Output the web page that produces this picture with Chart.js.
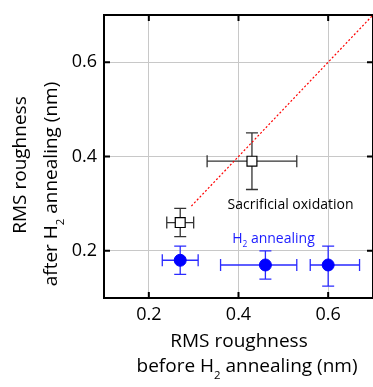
<!DOCTYPE html>
<html>
<head>
<meta charset="utf-8">
<script src="https://cdn.jsdelivr.net/npm/chart.js@4"></script>
<style>
  html, body { margin: 0; padding: 0; background: #fff; }
  canvas { display: block; }
</style>
</head>
<body>
<canvas id="roughChart" width="373" height="387"></canvas>
<script>
const xTicks = [0.2, 0.4, 0.6];
const yTicks = [0.2, 0.4, 0.6];

// sacrificial oxidation (open squares)
const oxBefore = [0.43, 0.27];
const oxAfter = [0.39, 0.26];
const oxBeforeErrLo = [0.10, 0.03];
const oxBeforeErrHi = [0.10, 0.03];
const oxAfterErrLo = [0.06, 0.03];
const oxAfterErrHi = [0.06, 0.03];

// H2 annealing (filled circles)
const h2Before = [0.27, 0.46, 0.60];
const h2After = [0.18, 0.17, 0.17];
const h2BeforeErrLo = [0.04, 0.10, 0.04];
const h2BeforeErrHi = [0.04, 0.07, 0.07];
const h2AfterErrLo = [0.03, 0.03, 0.045];
const h2AfterErrHi = [0.03, 0.03, 0.04];

// y = x guide line
const guideX = [0.295, 0.7];
const guideY = [0.295, 0.7];

// axis titles, [text, isSubscript]
const xTitle = [[['RMS roughness', false]], [['before H', false], ['2', true], [' annealing (nm)', false]]];
const yTitle = [[['RMS roughness', false]], [['after H', false], ['2', true], [' annealing (nm)', false]]];

const FONT = '"Open Sans", sans-serif';

function drawRich(ctx, parts, cx, cy, size) {
  let total = 0;
  parts.forEach(([t, sub]) => {
    ctx.font = (sub ? size * 0.6 : size) + 'px ' + FONT;
    total += ctx.measureText(t).width;
  });
  let x = cx - total / 2;
  ctx.textBaseline = 'middle';
  ctx.textAlign = 'left';
  parts.forEach(([t, sub]) => {
    ctx.font = (sub ? size * 0.6 : size) + 'px ' + FONT;
    ctx.fillText(t, x, sub ? cy + size * 0.45 : cy);
    x += ctx.measureText(t).width;
  });
}

const errorBars = {
  id: 'errorBars',
  beforeDatasetsDraw(chart) {
    const { ctx, scales: { x, y } } = chart;
    chart.data.datasets.forEach(ds => {
      if (!ds.errors) return;
      const e = ds.errors;
      ctx.save();
      ctx.strokeStyle = ds.errorColor;
      ctx.lineWidth = 1.3;
      ds.data.forEach((p, i) => {
        const px = x.getPixelForValue(p.x), py = y.getPixelForValue(p.y);
        const x0 = x.getPixelForValue(p.x - e.xLo[i]), x1 = x.getPixelForValue(p.x + e.xHi[i]);
        const y0 = y.getPixelForValue(p.y - e.yLo[i]), y1 = y.getPixelForValue(p.y + e.yHi[i]);
        const c = 6;
        ctx.beginPath();
        ctx.moveTo(x0, py); ctx.lineTo(x1, py);
        ctx.moveTo(x0, py - c); ctx.lineTo(x0, py + c);
        ctx.moveTo(x1, py - c); ctx.lineTo(x1, py + c);
        ctx.moveTo(px, y0); ctx.lineTo(px, y1);
        ctx.moveTo(px - c, y0); ctx.lineTo(px + c, y0);
        ctx.moveTo(px - c, y1); ctx.lineTo(px + c, y1);
        ctx.stroke();
      });
      ctx.restore();
    });
  }
};

const frameAndText = {
  id: 'frameAndText',
  afterDraw(chart) {
    const { ctx, chartArea: a, scales: { x, y } } = chart;
    ctx.save();
    ctx.strokeStyle = '#000';
    ctx.lineWidth = 2;
    ctx.strokeRect(a.left, a.top, a.right - a.left, a.bottom - a.top);
    ctx.beginPath();
    const tl = 6;
    xTicks.forEach(v => {
      const px = x.getPixelForValue(v);
      ctx.moveTo(px, a.bottom); ctx.lineTo(px, a.bottom - tl);
      ctx.moveTo(px, a.top); ctx.lineTo(px, a.top + tl);
    });
    yTicks.forEach(v => {
      const py = y.getPixelForValue(v);
      ctx.moveTo(a.left, py); ctx.lineTo(a.left + tl, py);
      ctx.moveTo(a.right, py); ctx.lineTo(a.right - tl, py);
    });
    ctx.stroke();

    // tick labels
    ctx.fillStyle = '#000';
    ctx.font = '18px ' + FONT;
    ctx.textBaseline = 'middle';
    ctx.textAlign = 'center';
    xTicks.forEach(v => ctx.fillText(v.toFixed(1), x.getPixelForValue(v), a.bottom + 17));
    ctx.textAlign = 'right';
    yTicks.forEach(v => ctx.fillText(v.toFixed(1), a.left - 7, y.getPixelForValue(v)));

    // in-plot labels
    drawRich(ctx, [['Sacrificial oxidation', false]], x.getPixelForValue(0.516), y.getPixelForValue(0.297), 14);
    ctx.fillStyle = '#1a1aff';
    drawRich(ctx, [['H', false], ['2', true], [' annealing', false]], x.getPixelForValue(0.478), y.getPixelForValue(0.226), 14);

    // axis titles
    ctx.fillStyle = '#000';
    drawRich(ctx, xTitle[0], 239, 342, 19);
    drawRich(ctx, xTitle[1], 247, 367, 19);
    ctx.save();
    ctx.translate(21, 165);
    ctx.rotate(-Math.PI / 2);
    drawRich(ctx, yTitle[0], 0, 0, 19);
    ctx.restore();
    ctx.save();
    ctx.translate(52, 184);
    ctx.rotate(-Math.PI / 2);
    drawRich(ctx, yTitle[1], 0, 0, 19);
    ctx.restore();
    ctx.restore();
  }
};

new Chart(document.getElementById('roughChart'), {
  type: 'scatter',
  data: {
    datasets: [
      {
        type: 'line',
        label: 'y = x',
        data: guideX.map((v, i) => ({ x: v, y: guideY[i] })),
        borderColor: '#ff0000',
        borderWidth: 1.2,
        borderDash: [2, 2],
        pointRadius: 0,
        fill: false
      },
      {
        label: 'Sacrificial oxidation',
        data: oxBefore.map((v, i) => ({ x: v, y: oxAfter[i] })),
        pointStyle: 'rect',
        pointRadius: 7,
        backgroundColor: '#fff',
        borderColor: '#000',
        borderWidth: 1.2,
        errorColor: '#333',
        errors: { xLo: oxBeforeErrLo, xHi: oxBeforeErrHi, yLo: oxAfterErrLo, yHi: oxAfterErrHi }
      },
      {
        label: 'H2 annealing',
        data: h2Before.map((v, i) => ({ x: v, y: h2After[i] })),
        pointStyle: 'circle',
        pointRadius: 6,
        backgroundColor: '#0000ff',
        borderColor: '#0000ff',
        borderWidth: 1,
        errorColor: '#2a2aff',
        errors: { xLo: h2BeforeErrLo, xHi: h2BeforeErrHi, yLo: h2AfterErrLo, yHi: h2AfterErrHi }
      }
    ]
  },
  options: {
    responsive: false,
    animation: false,
    devicePixelRatio: 1,
    layout: { autoPadding: false, padding: { top: 15, right: -1, left: 0, bottom: 0 } },
    plugins: { legend: { display: false }, tooltip: { enabled: false } },
    scales: {
      x: {
        type: 'linear',
        min: 0.1,
        max: 0.7,
        afterBuildTicks: s => { s.ticks = xTicks.map(v => ({ value: v })); },
        afterFit: s => { s.height = 89; },
        ticks: { display: false },
        grid: { color: '#c8c8c8', drawTicks: false },
        border: { display: false }
      },
      y: {
        type: 'linear',
        min: 0.1,
        max: 0.7,
        afterBuildTicks: s => { s.ticks = yTicks.map(v => ({ value: v })); },
        afterFit: s => { s.width = 104; },
        ticks: { display: false },
        grid: { color: '#c8c8c8', drawTicks: false },
        border: { display: false }
      }
    }
  },
  plugins: [errorBars, frameAndText]
});
</script>
</body>
</html>
